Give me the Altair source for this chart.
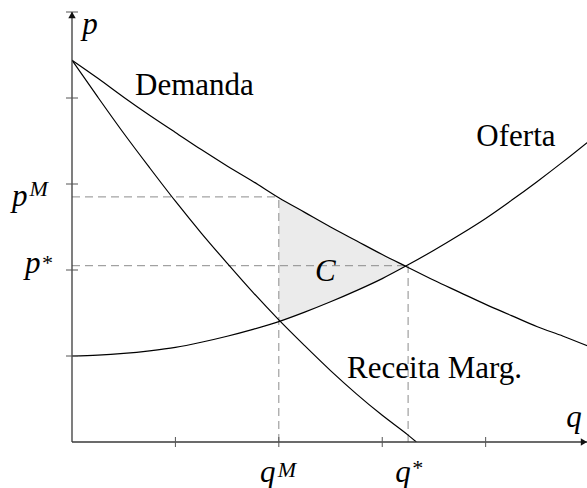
import altair as alt
import pandas as pd

# Quantity grid and the three curves (price values)
q_grid = [0.0, 0.25, 0.5, 0.75, 1.0, 1.25, 1.5, 1.75, 2.0, 2.25, 2.5,
          2.75, 3.0, 3.25, 3.5, 3.75, 4.0, 4.25, 4.5, 4.75, 5.0]
demanda = [4.44, 4.23, 4.01, 3.80, 3.60, 3.40, 3.21, 3.03, 2.84, 2.67, 2.50,
           2.34, 2.18, 2.03, 1.88, 1.74, 1.60, 1.47, 1.34, 1.23, 1.11]
oferta = [1.00, 1.01, 1.03, 1.06, 1.10, 1.16, 1.23, 1.31, 1.40, 1.51, 1.63,
          1.76, 1.90, 2.06, 2.23, 2.41, 2.60, 2.81, 3.03, 3.26, 3.50]
rm_q = [0.0, 0.25, 0.5, 0.75, 1.0, 1.25, 1.5, 1.75, 2.0, 2.25, 2.5,
        2.75, 3.0, 3.25, 3.33]
receita_marg = [4.44, 4.01, 3.59, 3.19, 2.80, 2.43, 2.08, 1.74, 1.42, 1.12,
                0.83, 0.56, 0.31, 0.08, 0.00]

# Shaded region C between demand (top) and supply (bottom)
c_q = [2.0, 2.25, 2.5, 2.75, 3.0, 3.23]
c_top = [2.84, 2.67, 2.50, 2.34, 2.18, 2.05]
c_bottom = [1.40, 1.51, 1.63, 1.76, 1.90, 2.05]

# Monopoly and competitive equilibria
q_m, p_m = 2.0, 2.85
q_star, p_star = 3.25, 2.05

# Axis ticks
x_ticks = [1, 2, 3, 4]
y_ticks = [1, 2, 3, 4, 5]
X_MAX, Y_MAX = 4.98, 5.0

FONT = "Liberation Serif"
W, H = 515, 430

xs = alt.Scale(domain=[0, X_MAX], nice=False, zero=False)
ys = alt.Scale(domain=[0, Y_MAX], nice=False, zero=False)


def X(field="q"):
    return alt.X(f"{field}:Q", scale=xs, axis=None)


def Y(field="p"):
    return alt.Y(f"{field}:Q", scale=ys, axis=None)


curves = pd.concat([
    pd.DataFrame({"q": q_grid, "p": demanda, "s": "Demanda"}),
    pd.DataFrame({"q": q_grid, "p": oferta, "s": "Oferta"}),
    pd.DataFrame({"q": rm_q, "p": receita_marg, "s": "Receita Marg."}),
])
shade = pd.DataFrame({"q": c_q, "top": c_top, "bottom": c_bottom})

dashes = pd.DataFrame({
    "q": [0, q_m, 0, q_star],
    "q2": [q_m, q_m, q_star, q_star],
    "p": [p_m, 0, p_star, 0],
    "p2": [p_m, p_m, p_star, p_star],
})

area = alt.Chart(shade).mark_area(
    color="#ebebeb", interpolate="monotone", opacity=1
).encode(x=X(), y=Y("top"), y2="bottom:Q")

dashed = alt.Chart(dashes).mark_rule(
    color="#8c8c8c", strokeWidth=1, strokeDash=[8, 5]
).encode(x=X(), x2="q2:Q", y=Y(), y2="p2:Q")

lines = alt.Chart(curves).mark_line(
    color="black", strokeWidth=1.2, interpolate="monotone", clip=True
).encode(x=X(), y=Y(), detail="s:N")

axes_df = pd.DataFrame({"q": [0, 0], "q2": [X_MAX, 0], "p": [0, 0], "p2": [0, Y_MAX]})
axes = alt.Chart(axes_df).mark_rule(color="#3a3a3a", strokeWidth=1.3).encode(
    x=X(), x2="q2:Q", y=Y(), y2="p2:Q"
)

xt = alt.Chart(pd.DataFrame({"q": x_ticks})).mark_rule(
    color="#555555", strokeWidth=1
).encode(x=X(), y=alt.value(H - 5), y2=alt.value(H + 5))

yt = alt.Chart(pd.DataFrame({"p": y_ticks})).mark_rule(
    color="#555555", strokeWidth=1
).encode(y=Y(), x=alt.value(-6), x2=alt.value(6))

# Arrow heads at the axis ends
arrow_y = alt.Chart(pd.DataFrame({"q": [0], "p": [Y_MAX]})).mark_point(
    shape="triangle-up", filled=True, color="#111111", size=55,
    opacity=1, yOffset=3
).encode(x=X(), y=Y())
arrow_x = alt.Chart(pd.DataFrame({"q": [X_MAX], "p": [0]})).mark_point(
    shape="triangle-right", filled=True, color="#111111", size=55,
    opacity=1, xOffset=-3
).encode(x=X(), y=Y())

# Curve names (upright)
names = pd.DataFrame({
    "q": [0.61, 3.91, 2.66],
    "p": [4.03, 3.44, 0.74],
    "t": ["Demanda", "Oferta", "Receita Marg."],
})
name_text = alt.Chart(names).mark_text(
    font=FONT, fontSize=31, align="left", baseline="alphabetic", color="black"
).encode(x=X(), y=Y(), text="t:N")

# Math symbols (italic)
symbols = pd.DataFrame({
    "q": [0.10, 4.78, 2.35, -0.58, -0.455, 1.818, 3.125],
    "p": [4.75, 0.18, 1.87, 2.74, 1.96, -0.465, -0.465],
    "t": ["p", "q", "C", "p", "p", "q", "q"],
})
sym_text = alt.Chart(symbols).mark_text(
    font=FONT, fontSize=31, fontStyle="italic", align="left",
    baseline="alphabetic", color="black"
).encode(x=X(), y=Y(), text="t:N")

supers = pd.DataFrame({
    "q": [-0.41, -0.30, 1.99, 3.28],
    "p": [2.855, 1.995, -0.405, -0.384],
    "t": ["M", "*", "M", "*"],
})
sup_text = alt.Chart(supers).mark_text(
    font=FONT, fontSize=22, fontStyle="italic", align="left",
    baseline="alphabetic", color="black"
).encode(x=X(), y=Y(), text="t:N")

chart = alt.layer(
    area, dashed, lines, axes, xt, yt, arrow_y, arrow_x,
    name_text, sym_text, sup_text
).properties(
    width=W, height=H,
    padding={"left": 72, "top": 12, "right": 0, "bottom": 46},
    autosize=alt.AutoSizeParams(type="none"),
    background="white",
).configure_view(stroke=None)

chart.save("out.html", embed_options={"renderer": "svg", "actions": False})
